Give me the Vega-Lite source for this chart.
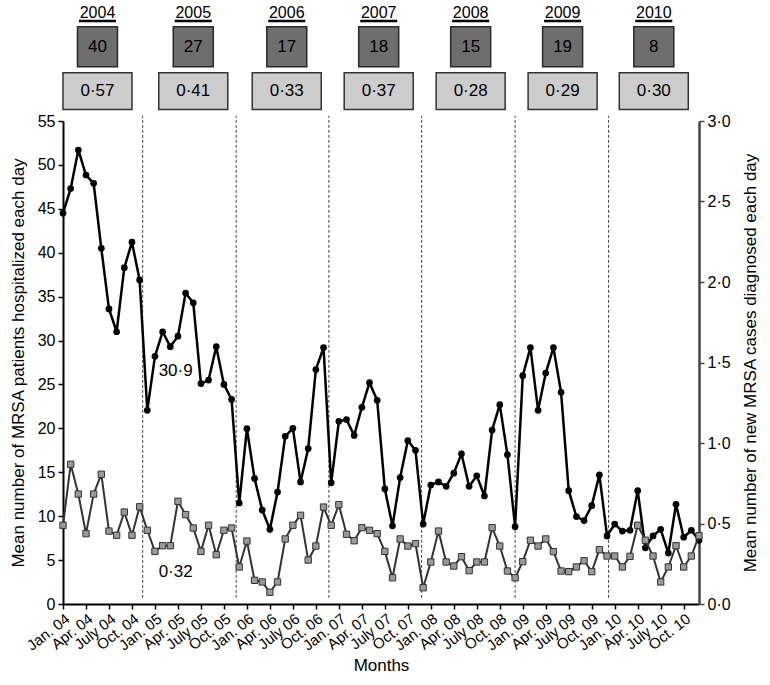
{
  "$schema": "https://vega.github.io/schema/vega-lite/v6.json",
  "padding": {"left": 9, "top": 0, "right": 5, "bottom": 5},
  "background": "white",
  "config": {"font": "Liberation Sans", "view": {"stroke": null}, "axis": {"grid": false}},
  "spacing": 2,
  "datasets": {
    "series": [
      {"t":0,"month":"2004-01","pat":44.5,"new":0.489},
      {"t":1,"month":"2004-02","pat":47.3,"new":0.868},
      {"t":2,"month":"2004-03","pat":51.7,"new":0.683},
      {"t":3,"month":"2004-04","pat":48.85,"new":0.437},
      {"t":4,"month":"2004-05","pat":47.9,"new":0.683},
      {"t":5,"month":"2004-06","pat":40.5,"new":0.806},
      {"t":6,"month":"2004-07","pat":33.6,"new":0.453},
      {"t":7,"month":"2004-08","pat":31.0,"new":0.427},
      {"t":8,"month":"2004-09","pat":38.3,"new":0.571},
      {"t":9,"month":"2004-10","pat":41.2,"new":0.427},
      {"t":10,"month":"2004-11","pat":36.9,"new":0.604},
      {"t":11,"month":"2004-12","pat":22.05,"new":0.458},
      {"t":12,"month":"2005-01","pat":28.2,"new":0.327},
      {"t":13,"month":"2005-02","pat":31.0,"new":0.362},
      {"t":14,"month":"2005-03","pat":29.3,"new":0.362},
      {"t":15,"month":"2005-04","pat":30.5,"new":0.638},
      {"t":16,"month":"2005-05","pat":35.4,"new":0.555},
      {"t":17,"month":"2005-06","pat":34.3,"new":0.472},
      {"t":18,"month":"2005-07","pat":25.1,"new":0.327},
      {"t":19,"month":"2005-08","pat":25.5,"new":0.489},
      {"t":20,"month":"2005-09","pat":29.3,"new":0.306},
      {"t":21,"month":"2005-10","pat":25.0,"new":0.458},
      {"t":22,"month":"2005-11","pat":23.3,"new":0.472},
      {"t":23,"month":"2005-12","pat":11.5,"new":0.230},
      {"t":24,"month":"2006-01","pat":19.96,"new":0.391},
      {"t":25,"month":"2006-02","pat":14.3,"new":0.147},
      {"t":26,"month":"2006-03","pat":10.7,"new":0.137},
      {"t":27,"month":"2006-04","pat":8.5,"new":0.073},
      {"t":28,"month":"2006-05","pat":12.75,"new":0.137},
      {"t":29,"month":"2006-06","pat":19.1,"new":0.404},
      {"t":30,"month":"2006-07","pat":20.0,"new":0.489},
      {"t":31,"month":"2006-08","pat":13.9,"new":0.551},
      {"t":32,"month":"2006-09","pat":17.7,"new":0.273},
      {"t":33,"month":"2006-10","pat":26.7,"new":0.360},
      {"t":34,"month":"2006-11","pat":29.2,"new":0.602},
      {"t":35,"month":"2006-12","pat":13.8,"new":0.489},
      {"t":36,"month":"2007-01","pat":20.8,"new":0.617},
      {"t":37,"month":"2007-02","pat":21.0,"new":0.433},
      {"t":38,"month":"2007-03","pat":19.2,"new":0.393},
      {"t":39,"month":"2007-04","pat":22.4,"new":0.474},
      {"t":40,"month":"2007-05","pat":25.2,"new":0.458},
      {"t":41,"month":"2007-06","pat":23.2,"new":0.437},
      {"t":42,"month":"2007-07","pat":13.1,"new":0.327},
      {"t":43,"month":"2007-08","pat":8.9,"new":0.163},
      {"t":44,"month":"2007-09","pat":14.4,"new":0.404},
      {"t":45,"month":"2007-10","pat":18.6,"new":0.360},
      {"t":46,"month":"2007-11","pat":17.5,"new":0.375},
      {"t":47,"month":"2007-12","pat":9.1,"new":0.101},
      {"t":48,"month":"2008-01","pat":13.55,"new":0.261},
      {"t":49,"month":"2008-02","pat":13.9,"new":0.453},
      {"t":50,"month":"2008-03","pat":13.4,"new":0.261},
      {"t":51,"month":"2008-04","pat":14.9,"new":0.236},
      {"t":52,"month":"2008-05","pat":17.1,"new":0.294},
      {"t":53,"month":"2008-06","pat":13.4,"new":0.207},
      {"t":54,"month":"2008-07","pat":14.6,"new":0.261},
      {"t":55,"month":"2008-08","pat":12.3,"new":0.261},
      {"t":56,"month":"2008-09","pat":19.8,"new":0.474},
      {"t":57,"month":"2008-10","pat":22.7,"new":0.360},
      {"t":58,"month":"2008-11","pat":17.0,"new":0.205},
      {"t":59,"month":"2008-12","pat":8.8,"new":0.163},
      {"t":60,"month":"2009-01","pat":26.0,"new":0.263},
      {"t":61,"month":"2009-02","pat":29.2,"new":0.396},
      {"t":62,"month":"2009-03","pat":22.05,"new":0.360},
      {"t":63,"month":"2009-04","pat":26.3,"new":0.404},
      {"t":64,"month":"2009-05","pat":29.2,"new":0.325},
      {"t":65,"month":"2009-06","pat":24.1,"new":0.205},
      {"t":66,"month":"2009-07","pat":12.9,"new":0.201},
      {"t":67,"month":"2009-08","pat":9.95,"new":0.230},
      {"t":68,"month":"2009-09","pat":9.5,"new":0.269},
      {"t":69,"month":"2009-10","pat":11.2,"new":0.201},
      {"t":70,"month":"2009-11","pat":14.7,"new":0.337},
      {"t":71,"month":"2009-12","pat":7.75,"new":0.298},
      {"t":72,"month":"2010-01","pat":9.1,"new":0.298},
      {"t":73,"month":"2010-02","pat":8.3,"new":0.230},
      {"t":74,"month":"2010-03","pat":8.4,"new":0.296},
      {"t":75,"month":"2010-04","pat":12.9,"new":0.489},
      {"t":76,"month":"2010-05","pat":6.4,"new":0.396},
      {"t":77,"month":"2010-06","pat":7.75,"new":0.298},
      {"t":78,"month":"2010-07","pat":8.5,"new":0.137},
      {"t":79,"month":"2010-08","pat":5.8,"new":0.230},
      {"t":80,"month":"2010-09","pat":11.35,"new":0.362},
      {"t":81,"month":"2010-10","pat":7.6,"new":0.230},
      {"t":82,"month":"2010-11","pat":8.4,"new":0.298},
      {"t":83,"month":"2010-12","pat":7.25,"new":0.424}
    ],
    "years": [
      {"year":"2004","c":4.5,"count":"40","rate":"0·57"},
      {"year":"2005","c":17.0,"count":"27","rate":"0·41"},
      {"year":"2006","c":29.2,"count":"17","rate":"0·33"},
      {"year":"2007","c":41.2,"count":"18","rate":"0·37"},
      {"year":"2008","c":53.2,"count":"15","rate":"0·28"},
      {"year":"2009","c":65.2,"count":"19","rate":"0·29"},
      {"year":"2010","c":77.1,"count":"8","rate":"0·30"}
    ],
    "dashes": [{"t":10.4},{"t":22.6},{"t":34.7},{"t":46.8},{"t":59.0},{"t":71.2}],
    "notes": [{"t":14.7,"v":26.5,"label":"30·9"},{"t":14.7,"v":3.6,"label":"0·32"}]
  },
  "vconcat": [
    {
      "width": 636,
      "height": 110,
      "data": {"name": "years"},
      "encoding": {
        "x": {"field": "c", "type": "quantitative", "scale": {"domain": [0, 83], "nice": false, "zero": false}, "axis": null}
      },
      "layer": [
        {
          "mark": {"type": "text", "fontSize": 16, "color": "black", "baseline": "middle"},
          "encoding": {
            "text": {"field": "year"},
            "y": {"datum": 13, "type": "quantitative", "scale": {"domain": [0, 110], "reverse": true, "nice": false}, "axis": null}
          }
        },
        {
          "mark": {"type": "rule", "color": "black", "strokeWidth": 2.5, "xOffset": -18.5, "x2Offset": 18.5},
          "encoding": {
            "x2": {"field": "c"},
            "y": {"datum": 21, "type": "quantitative"}
          }
        },
        {
          "mark": {"type": "rect", "fill": "#6e6e6e", "stroke": "#2a2a2a", "strokeWidth": 1.5, "xOffset": -20, "x2Offset": 20},
          "encoding": {
            "x2": {"field": "c"},
            "y": {"datum": 26.7, "type": "quantitative"},
            "y2": {"datum": 66.7}
          }
        },
        {
          "mark": {"type": "text", "fontSize": 17, "color": "black", "baseline": "middle"},
          "encoding": {
            "text": {"field": "count"},
            "y": {"datum": 46.7, "type": "quantitative"}
          }
        },
        {
          "mark": {"type": "rect", "fill": "#cdcdcd", "stroke": "#333333", "strokeWidth": 1.5, "xOffset": -34.5, "x2Offset": 34.5},
          "encoding": {
            "x2": {"field": "c"},
            "y": {"datum": 72.7, "type": "quantitative"},
            "y2": {"datum": 109.5}
          }
        },
        {
          "mark": {"type": "text", "fontSize": 17, "color": "black", "baseline": "middle"},
          "encoding": {
            "text": {"field": "rate"},
            "y": {"datum": 91.2, "type": "quantitative"}
          }
        }
      ]
    },
    {
      "width": 636,
      "height": 483,
      "encoding": {
        "x": {
          "field": "t", "type": "quantitative",
          "scale": {"domain": [0, 83], "nice": false, "zero": false},
          "axis": {
            "values": [0,3,6,9,12,15,18,21,24,27,30,33,36,39,42,45,48,51,54,57,60,63,66,69,72,75,78,81],
            "labelExpr": "['Jan. ','Apr. ','July ','Oct. '][(datum.value/3)%4] + ((floor(datum.value/12)+4) < 10 ? '0' : '') + (floor(datum.value/12)+4)",
            "labelAngle": -38, "labelFontSize": 15, "labelColor": "black", "labelOverlap": false,
            "tickSize": 5, "tickColor": "black", "tickWidth": 1.5,
            "domainColor": "black", "domainWidth": 2,
            "title": "Months", "titleFontSize": 17, "titleFontWeight": "normal", "titleColor": "black", "titlePadding": 4
          }
        }
      },
      "layer": [
        {
          "layer": [
            {
              "data": {"name": "dashes"},
              "mark": {"type": "rule", "strokeDash": [3, 2], "strokeWidth": 1, "color": "#444444"},
              "encoding": {
                "y": {"datum": 0.7, "type": "quantitative"},
                "y2": {"datum": 55.6}
              }
            },
            {
              "data": {"name": "series"},
              "mark": {"type": "line", "color": "black", "strokeWidth": 2.5},
              "encoding": {
                "y": {
                  "field": "pat", "type": "quantitative",
                  "scale": {"domain": [0, 55], "nice": false, "zero": true},
                  "axis": {
                    "orient": "left",
                    "values": [0,5,10,15,20,25,30,35,40,45,50,55],
                    "labelFontSize": 16, "labelColor": "black", "labelPadding": 3,
                    "tickSize": 5, "tickColor": "black", "tickWidth": 1.5,
                    "domainColor": "black", "domainWidth": 2,
                    "title": "Mean number of MRSA patients hospitalized each day",
                    "titleFontSize": 17, "titleFontWeight": "normal", "titleColor": "black", "titlePadding": 10
                  }
                }
              }
            },
            {
              "data": {"name": "series"},
              "mark": {"type": "circle", "color": "black", "opacity": 1, "size": 45},
              "encoding": {
                "y": {"field": "pat", "type": "quantitative"}
              }
            },
            {
              "data": {"name": "notes"},
              "mark": {"type": "text", "fontSize": 17, "color": "black", "baseline": "middle"},
              "encoding": {
                "y": {"field": "v", "type": "quantitative"},
                "text": {"field": "label"}
              }
            }
          ]
        },
        {
          "data": {"name": "series"},
          "layer": [
            {
              "mark": {"type": "line", "color": "#333333", "strokeWidth": 2},
              "encoding": {
                "y": {
                  "field": "new", "type": "quantitative",
                  "scale": {"domain": [0, 3], "nice": false, "zero": true},
                  "axis": {
                    "orient": "right",
                    "values": [0, 0.5, 1, 1.5, 2, 2.5, 3],
                    "labelExpr": "replace(format(datum.value, '.1f'), '.', '·')",
                    "labelFontSize": 16, "labelColor": "black", "labelPadding": 3,
                    "tickSize": 5, "tickColor": "#444444", "tickWidth": 1.5,
                    "domainColor": "#444444", "domainWidth": 2.5,
                    "title": "Mean number of new MRSA cases diagnosed each day",
                    "titleAngle": -90, "titleBaseline": "top",
                    "titleFontSize": 17, "titleFontWeight": "normal", "titleColor": "black", "titlePadding": 12
                  }
                }
              }
            },
            {
              "mark": {"type": "square", "size": 40, "fill": "#999999", "stroke": "#333333", "strokeWidth": 1, "opacity": 1},
              "encoding": {
                "y": {"field": "new", "type": "quantitative"}
              }
            }
          ]
        }
      ],
      "resolve": {"scale": {"y": "independent"}}
    }
  ]
}
